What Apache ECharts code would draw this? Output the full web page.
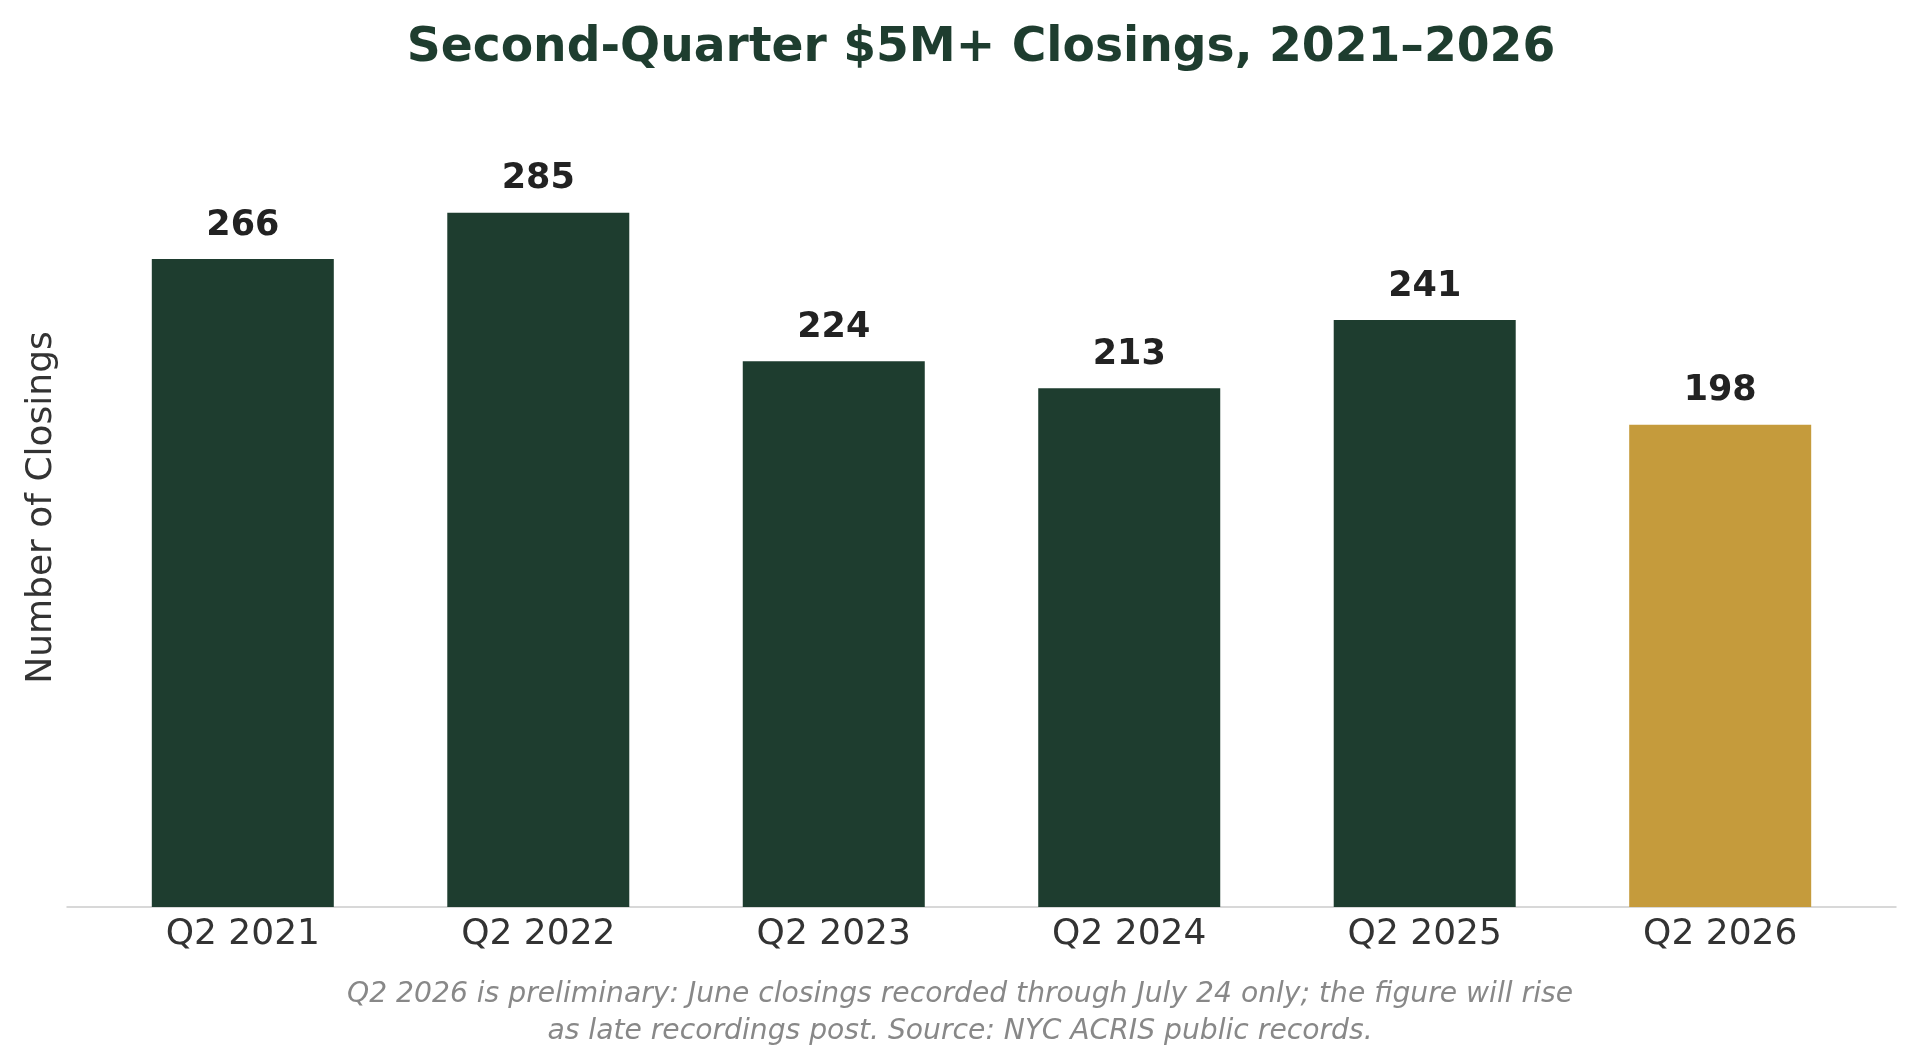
<!DOCTYPE html>
<html>
<head>
<meta charset="utf-8">
<title>Second-Quarter $5M+ Closings</title>
<script src="https://cdn.jsdelivr.net/npm/echarts@6/dist/echarts.min.js"></script>
<style>
  html, body { margin: 0; padding: 0; background: #fff; }
  #chart { width: 1920px; height: 1058px; }
</style>
</head>
<body>
<div id="chart"></div>
<script>
// data
var categories = ["Q2 2021", "Q2 2022", "Q2 2023", "Q2 2024", "Q2 2025", "Q2 2026"];
var closings = [266, 285, 224, 213, 241, 198];
var preliminaryIndex = 5; // Q2 2026 is partial

var titleText = "Second-Quarter $5M+ Closings, 2021\u20132026";
var footnoteText = "Q2 2026 is preliminary: June closings recorded through July 24 only; the figure will rise\nas late recordings post. Source: NYC ACRIS public records.";

var GREEN = "#1e3d2f";
var GOLD = "#c59b3c";
var FONT = "DejaVu Sans";

var chart = echarts.init(document.getElementById("chart"));

var barData = closings.map(function (v, i) { return [i, v]; });
var tickPositions = categories.map(function (c, i) { return i; });

var option = {
    backgroundColor: "#fff",
    animation: false,
    textStyle: { fontFamily: FONT },
    title: {
        // title sits roughly centred over the plot area, not the page
        text: titleText,
        left: 976,
        top: 20,
        textAlign: "center",
        textStyle: { fontFamily: FONT, fontSize: 47.2, fontWeight: "bold", color: GREEN }
    },
    graphic: [
        {
            type: "text",
            left: "center",
            top: 976,
            style: {
                text: footnoteText,
                fontFamily: FONT,
                fontSize: 28.2,
                fontStyle: "italic",
                fill: "#888888",
                lineHeight: 37,
                textAlign: "center"
            }
        }
    ],
    grid: { left: 67, right: 24, top: 108, bottom: 151 },
    xAxis: {
        type: "value",
        min: -0.595,
        max: 5.595,
        axisLine: { show: true, lineStyle: { color: "#cccccc", width: 1.5 } },
        axisTick: { show: false },
        splitLine: { show: false },
        axisLabel: {
            customValues: tickPositions,
            margin: 10,
            fontFamily: FONT,
            fontSize: 36,
            color: "#333333",
            formatter: function (v) { return categories[Math.round(v)] || ""; }
        }
    },
    yAxis: {
        type: "value",
        min: 0,
        max: 328,
        name: "Number of Closings",
        nameLocation: "middle",
        nameRotate: 90,
        nameGap: 7,
        nameTextStyle: { fontFamily: FONT, fontSize: 36, color: "#333333" },
        axisLine: { show: false },
        axisTick: { show: false },
        axisLabel: { show: false },
        splitLine: { show: false }
    },
    series: [
        {
            type: "bar",
            data: barData,
            barWidth: 182,
            itemStyle: {
                color: function (p) { return p.dataIndex === preliminaryIndex ? GOLD : GREEN; }
            },
            label: {
                show: true,
                position: "top",
                distance: 16,
                fontFamily: FONT,
                fontSize: 35,
                fontWeight: "bold",
                color: "#222222",
                formatter: function (p) { return p.value[1]; }
            }
        }
    ]
};

chart.setOption(option);

window.addEventListener("resize", function () {
    if (chart) chart.resize();
});
</script>
</body>
</html>
